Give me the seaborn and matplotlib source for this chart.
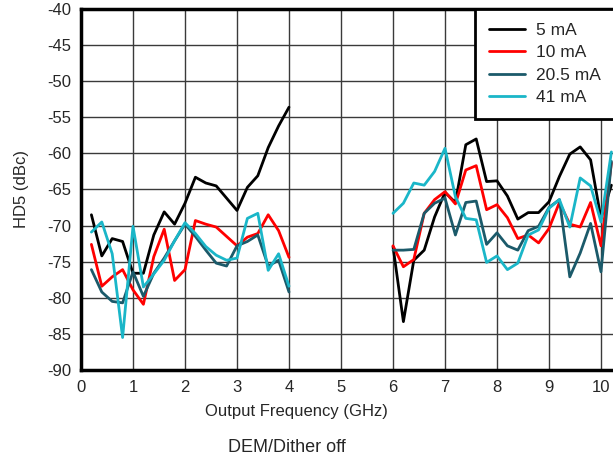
import numpy as np
import pandas as pd
import matplotlib
matplotlib.use("Agg")
import matplotlib.pyplot as plt
import seaborn as sns

sns.set_style("white")
plt.rcParams['font.family'] = ['Liberation Sans', 'DejaVu Sans']
plt.rcParams['axes.unicode_minus'] = False

# 주파수 (GHz): 두 구간
freq_low = [0.2, 0.4, 0.6, 0.8, 1.0, 1.2, 1.4, 1.6, 1.8, 2.0,
            2.2, 2.4, 2.6, 2.8, 3.0, 3.2, 3.4, 3.6, 3.8, 4.0]
freq_high = [6.0, 6.2, 6.4, 6.6, 6.8, 7.0, 7.2, 7.4, 7.6, 7.8, 8.0,
             8.2, 8.4, 8.6, 8.8, 9.0, 9.2, 9.4, 9.6, 9.8, 10.0, 10.2]

# HD5 (dBc)
hd5_5ma_low = [-68.5, -74.2, -71.8, -72.2, -76.6, -76.6, -71.3, -68.1, -69.8, -66.9,
               -63.3, -64.1, -64.5, -66.2, -67.9, -64.7, -63.1, -59.2, -56.2, -53.6]
hd5_10ma_low = [-72.6, -78.4, -77.1, -76.1, -78.9, -80.9, -74.3, -70.5, -77.6, -76.1,
                -69.3, -69.8, -70.2, -71.5, -72.8, -71.6, -71.1, -68.5, -70.7, -74.4]
hd5_20ma_low = [-76.1, -79.2, -80.5, -80.7, -76.4, -79.8, -76.6, -74.5, -72.1, -69.8,
                -71.5, -73.4, -75.2, -75.6, -72.8, -72.2, -71.3, -75.6, -74.8, -79.2]
hd5_41ma_low = [-70.9, -69.5, -73.9, -85.5, -70.1, -78.5, -76.7, -74.8, -72.1, -69.6,
                -71.1, -72.9, -74.1, -74.8, -74.5, -69.0, -68.3, -76.2, -73.9, -78.4]

hd5_5ma_high = [-72.9, -83.3, -74.8, -73.4, -68.8, -65.4, -66.8, -58.8, -58.0, -63.9, -63.8,
                -65.9, -69.1, -68.2, -68.2, -66.7, -63.2, -60.1, -59.1, -60.9, -69.0, -64.4]
hd5_10ma_high = [-72.8, -75.7, -74.7, -68.3, -66.4, -65.3, -67.0, -62.3, -61.7, -67.8, -67.1,
                 -68.9, -71.8, -71.3, -72.4, -70.4, -66.8, -69.8, -70.2, -66.8, -72.8, -61.3]
hd5_20ma_high = [-73.4, -73.4, -73.3, -68.3, -66.9, -66.2, -71.3, -66.8, -66.6, -72.6, -71.0,
                 -72.8, -73.4, -70.7, -70.1, -67.5, -66.4, -77.1, -73.8, -69.7, -76.4, -61.1]
hd5_41ma_high = [-68.3, -66.9, -64.1, -64.4, -62.5, -59.3, -66.0, -69.0, -69.2, -75.1, -74.2,
                 -76.1, -75.2, -71.3, -70.6, -67.6, -66.4, -70.2, -63.4, -64.5, -69.5, -59.8]

labels = ['5 mA', '10 mA', '20.5 mA', '41 mA']
colors = ['#000000', '#FF0000', '#1B5A6A', '#1AB6C8']

rows = []
low_sets = [hd5_5ma_low, hd5_10ma_low, hd5_20ma_low, hd5_41ma_low]
high_sets = [hd5_5ma_high, hd5_10ma_high, hd5_20ma_high, hd5_41ma_high]
for lab, lo, hi in zip(labels, low_sets, high_sets):
    for f, v in zip(freq_low, lo):
        rows.append((lab, 'low', f, v))
    for f, v in zip(freq_high, hi):
        rows.append((lab, 'high', f, v))
df = pd.DataFrame(rows, columns=['current', 'seg', 'freq', 'hd5'])

fig = plt.figure(figsize=(6.13, 4.62), dpi=100)
ax = fig.add_axes([81/613, 92/462, 10.5*52/613, 361/462])

sns.lineplot(data=df, x='freq', y='hd5', hue='current', units='seg', estimator=None,
             palette=colors, hue_order=labels, linewidth=2, ax=ax, sort=False)

ax.set_xlim(0, 10.5)
ax.set_ylim(-90, -40)
ax.set_xticks(range(0, 11))
ax.set_yticks(range(-90, -39, 5))
ax.grid(True, color='#3a3a3a', linewidth=1)
ax.tick_params(length=0, labelsize=12, pad=7)
for s in ax.spines.values():
    s.set_color('black')
    s.set_linewidth(2.5)

ax.set_xlabel("Output Frequency (GHz)", fontsize=12)
ax.xaxis.set_label_coords((296-81)/546, -0.095)
ax.set_ylabel("HD5 (dBc)", fontsize=12)
ax.yaxis.set_label_coords(-0.095, 0.5)

leg = ax.legend(loc='upper left', bbox_to_anchor=((475-81)/546, 1.0), borderaxespad=0,
                fancybox=False, fontsize=12.5, handlelength=2.1, handletextpad=0.6,
                labelspacing=0.42, borderpad=0.8, framealpha=1)
leg.get_frame().set_edgecolor('black')
leg.get_frame().set_linewidth(2)

fig.text(287/613, 1 - 448/462, "DEM/Dither off", ha='center', va='center', fontsize=13)

fig.savefig("out.png", dpi=100)
